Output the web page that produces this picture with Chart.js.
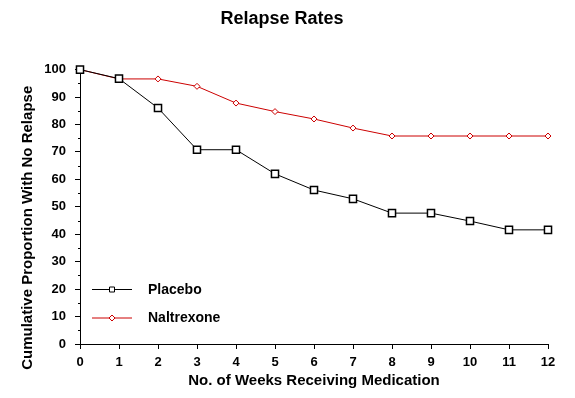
<!DOCTYPE html>
<html>
<head>
<meta charset="utf-8">
<script src="https://cdn.jsdelivr.net/npm/chart.js@4/dist/chart.umd.min.js"></script>
<style>
  html, body { margin: 0; padding: 0; background: #fff; }
  #wrap { width: 575px; height: 398px; }
</style>
</head>
<body>
<div id="wrap"><canvas id="relapse"></canvas></div>
<script>
// data
var weeks = ["0", "1", "2", "3", "4", "5", "6", "7", "8", "9", "10", "11", "12"]
var placebo = [100, 96.7, 86, 70.8, 70.8, 62, 56.1, 52.9, 47.7, 47.7, 44.8, 41.6, 41.6]
var naltrexone = [100, 96.6, 96.6, 93.9, 87.8, 84.7, 82, 78.7, 75.8, 75.8, 75.8, 75.8, 75.8]
var yTicks = [0, 10, 20, 30, 40, 50, 60, 70, 80, 90, 100]

var FONT = "'Liberation Sans', Arial, sans-serif"
var RED = "#cc0000"

// minor ticks on the y axis, the y title and the in-plot legend
var extras = {
  id: "extras",
  afterDraw(chart) {
    var ctx = chart.ctx
    var area = chart.chartArea
    var y = chart.scales.y
    ctx.save()

    ctx.fillStyle = "#000"
    for (var v = 5; v < 100; v += 10) {
      ctx.fillRect(area.left - 2, Math.round(y.getPixelForValue(v)), 2, 1)
    }

    ctx.translate(28, (area.top + area.bottom) / 2 + 21)
    ctx.rotate(-Math.PI / 2)
    ctx.font = "bold 15px " + FONT
    ctx.textAlign = "center"
    ctx.textBaseline = "middle"
    ctx.fillText("Cumulative Proportion With No Relapse", 0, 0)
    ctx.setTransform(1, 0, 0, 1, 0, 0)

    var x0 = area.left + 12
    var rows = chart.data.datasets
    rows.forEach(function(ds, i) {
      var ly = area.bottom - 55 + i * 28.5
      ctx.strokeStyle = ds.borderColor
      ctx.lineWidth = 1
      ctx.beginPath()
      ctx.moveTo(x0, ly + 0.5)
      ctx.lineTo(x0 + 40, ly + 0.5)
      ctx.stroke()
      var mx = x0 + 20
      ctx.fillStyle = "#fff"
      ctx.beginPath()
      if (ds.pointStyle == "rect") {
        ctx.rect(mx - 2.5, ly - 2, 5, 5)
      } else {
        ctx.moveTo(mx, ly - 2.5)
        ctx.lineTo(mx + 3, ly + 0.5)
        ctx.lineTo(mx, ly + 3.5)
        ctx.lineTo(mx - 3, ly + 0.5)
        ctx.closePath()
      }
      ctx.fill()
      ctx.stroke()
      ctx.fillStyle = "#000"
      ctx.font = "bold 14px " + FONT
      ctx.textAlign = "left"
      ctx.textBaseline = "middle"
      ctx.fillText(ds.label, x0 + 56, ly + 1)
    })
    ctx.restore()
  }
}

new Chart(document.getElementById("relapse"), {
  type: "line",
  data: {
    labels: weeks,
    datasets: [{
      label: "Placebo",
      data: placebo,
      borderColor: "#000",
      borderWidth: 1,
      pointStyle: "rect",
      pointRadius: 5,
      pointBorderWidth: 1.5,
      pointBackgroundColor: "#fff",
      pointBorderColor: "#000",
      tension: 0,
      clip: false
    }, {
      label: "Naltrexone",
      data: naltrexone,
      borderColor: RED,
      borderWidth: 1,
      pointStyle: "rectRot",
      pointRadius: 3,
      pointBorderWidth: 1,
      pointBackgroundColor: "#fff",
      pointBorderColor: RED,
      tension: 0,
      clip: false
    }]
  },
  plugins: [extras],
  options: {
    responsive: true,
    maintainAspectRatio: false,
    animation: false,
    // left padding only moves the title to the right, the y axis width makes up for it
    layout: { padding: { left: 16, right: 27, top: 0, bottom: 0 } },
    plugins: {
      legend: { display: false },
      tooltip: { enabled: false },
      title: {
        display: true,
        text: "Relapse Rates",
        color: "#000",
        font: { family: FONT, size: 18, weight: "bold" },
        padding: { top: 8, bottom: 40 }
      }
    },
    scales: {
      x: {
        offset: false,
        grid: { drawOnChartArea: false, drawTicks: true, tickLength: 5, color: "#000", offset: false },
        border: { display: true, color: "#000", width: 1 },
        ticks: { color: "#000", padding: 6, maxRotation: 0, autoSkip: false, font: { family: FONT, size: 13, weight: "bold" } },
        title: {
          display: true,
          text: "No. of Weeks Receiving Medication",
          color: "#000",
          font: { family: FONT, size: 15, weight: "bold" },
          padding: { top: 0, bottom: 8 }
        },
        afterFit(scale) { scale.height = 54 }
      },
      y: {
        min: 0,
        max: 100,
        afterBuildTicks(scale) { scale.ticks = yTicks.map(function(v) { return { value: v } }) },
        grid: { drawOnChartArea: false, drawTicks: true, tickLength: 5, color: "#000" },
        border: { display: true, color: "#000", width: 1 },
        ticks: { color: "#000", padding: 9, font: { family: FONT, size: 13, weight: "bold" } },
        afterFit(scale) { scale.width = 64 }
      }
    }
  }
})
</script>
</body>
</html>
